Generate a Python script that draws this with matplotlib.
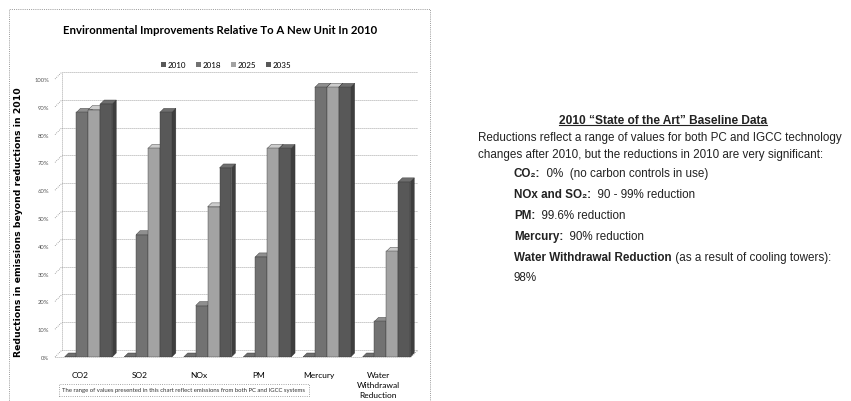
import numpy as np
import matplotlib
matplotlib.use('Agg')
import matplotlib.pyplot as plt
from matplotlib.patches import Polygon, Rectangle, Patch
from matplotlib import colors as mcolors

# datos del gráfico
categories = ['CO2', 'SO2', 'NOx', 'PM', 'Mercury', 'Water\nWithdrawal\nReduction']
years = ['2010', '2018', '2025', '2035']
red_2010 = [0, 0, 0, 0, 0, 0]
red_2018 = [88, 44, 18.5, 36, 97, 12.8]
red_2025 = [89, 75, 54, 75, 97, 38]
red_2035 = [91, 88, 68, 75, 97, 63]
yticks = [0, 10, 20, 30, 40, 50, 60, 70, 80, 90, 100]

series = [red_2010, red_2018, red_2025, red_2035]
bar_colors = ['#595959', '#727272', '#a3a3a3', '#585858']

chart_font = ['Lato', 'DejaVu Sans']
note_font = ['Liberation Sans', 'DejaVu Sans']

W, H = 851, 402
fig = plt.figure(figsize=(W / 100, H / 100), dpi=100)

# ejes en pixeles: izquierda 55, derecha 418, 0% en y=358, 100% en y=80
ax_l, ax_r, ax_b, ax_t = 55, 418, 358, 80
ax = fig.add_axes([ax_l / W, 1 - ax_b / H, (ax_r - ax_l) / W, (ax_b - ax_t) / H])
xmin, xmax = -0.42, 5.67
ax.set_xlim(xmin, xmax)
ax.set_ylim(0, 100)
px_x = (ax_r - ax_l) / (xmax - xmin)
px_y = (ax_b - ax_t) / 100.0

# profundidad del efecto 3D
dx = 4 / px_x
dy = 4 / px_y
wall_dx = 7 / px_x
wall_dy = 7 / px_y

# cuadrícula en la pared del fondo
grid_kw = dict(color='#8a8a8a', lw=0.6, linestyle=(0, (1, 1.4)), zorder=0)
for v in yticks:
    ax.plot([xmin, xmin + wall_dx], [v, v + wall_dy], **grid_kw, clip_on=False)
    ax.plot([xmin + wall_dx, xmax], [v + wall_dy, v + wall_dy], **grid_kw, clip_on=False)
ax.plot([xmin + wall_dx, xmin + wall_dx], [wall_dy, 100 + wall_dy], **grid_kw, clip_on=False)
ax.plot([xmin, xmax - wall_dx], [0, 0], **grid_kw, clip_on=False)
ax.plot([xmax - wall_dx, xmax], [0, wall_dy], **grid_kw, clip_on=False)


def shade(c, f):
    r, g, b = mcolors.to_rgb(c)
    return (min(r * f, 1), min(g * f, 1), min(b * f, 1))


# barras con caras lateral y superior
bw = 0.2
x = np.arange(len(categories))
for k, (vals, col) in enumerate(zip(series, bar_colors)):
    xs = x + 0.14 + (k - 1.5) * bw
    z = 2 + k * 3
    for xc, h in zip(xs, vals):
        x0 = xc - bw / 2
        x1 = xc + bw / 2
        ax.add_patch(Polygon([(x1, 0), (x1, h), (x1 + dx, h + dy), (x1 + dx, dy)],
                             closed=True, fc=shade(col, 0.7), ec='#333333', lw=0.3, zorder=z))
        ax.add_patch(Polygon([(x0, h), (x1, h), (x1 + dx, h + dy), (x0 + dx, h + dy)],
                             closed=True, fc=shade(col, 1.25), ec='#333333', lw=0.3, zorder=z + 1))
    ax.bar(xs, vals, width=bw, color=col, edgecolor='#3a3a3a', linewidth=0.3, zorder=z + 2)

ax.set_yticks(yticks)
ax.set_yticklabels([f'{v}%' for v in yticks], fontsize=4.2, color='#555555', family=chart_font)
ax.set_xticks(x)
ax.set_xticklabels(categories, fontsize=6, family=chart_font, linespacing=1.55, va='top')
ax.tick_params(axis='y', length=0, pad=4)
ax.tick_params(axis='x', length=0, pad=10)
for s in ax.spines.values():
    s.set_visible(False)
ax.patch.set_alpha(0)

ax.set_ylabel('Reductions in emissions beyond reductions in 2010', fontsize=6.7,
              fontweight='bold', family=['DejaVu Sans'])
ax.yaxis.set_label_coords(-0.088, 0.49)

# título y leyenda
fig.text(0.2585, 1 - 30 / H, 'Environmental Improvements Relative To A New Unit In 2010',
         ha='center', va='center', fontsize=8.2, fontweight='bold', family=chart_font)
handles = [Patch(facecolor=c, edgecolor='none') for c in bar_colors]
fig.legend(handles, years, loc='center', bbox_to_anchor=(0.266, 1 - 66 / H), ncol=4,
           frameon=False, prop={'family': chart_font, 'size': 5.8},
           handlelength=0.55, handleheight=0.55, handletextpad=0.3, columnspacing=1.2)

# nota al pie con recuadro punteado
fig.text(184 / W, 1 - 391 / H,
         'The range of values presented in this chart reflect emissions from both PC and IGCC systems',
         ha='center', va='center', fontsize=4.3, family=chart_font, color='#333333',
         bbox=dict(boxstyle='square,pad=0.6', fc='white', ec='#888888', lw=0.6, ls=':'))

# borde del área del gráfico
fig.patches.append(Rectangle((9 / W, -0.02), (430 - 9) / W, 1 - 10 / H + 0.02,
                             transform=fig.transFigure, fill=False, ec='#999999',
                             lw=0.7, ls=(0, (1, 1.2))))

# bloque de texto a la derecha
fig.canvas.draw()
renderer = fig.canvas.get_renderer()
fs = 8.4


def runs(x_px, y_px, parts):
    xf = x_px / W
    for txt, weight in parts:
        t = fig.text(xf, 1 - y_px / H, txt, ha='left', va='baseline', fontsize=fs,
                     fontweight=weight, family=note_font, color='#222222')
        bb = t.get_window_extent(renderer)
        xf = bb.x1 / W


head = fig.text(663 / W, 1 - 124 / H, '2010 \u201cState of the Art\u201d Baseline Data',
                ha='center', va='baseline', fontsize=8.6, fontweight='bold', family=note_font,
                color='#222222')
bb = head.get_window_extent(renderer)
fig.add_artist(plt.Line2D([bb.x0 / W, bb.x1 / W], [(bb.y0 + 1) / H, (bb.y0 + 1) / H],
                          color='#222222', lw=0.8))

runs(478, 141, [('Reductions reflect a range of values for both PC and IGCC technology', 'normal')])
runs(478, 158, [('changes after 2010, but the reductions in 2010 are very significant:', 'normal')])
runs(514, 177, [('CO\u2082:', 'bold'), ('  0%  (no carbon controls in use)', 'normal')])
runs(514, 198, [('NOx and SO\u2082:', 'bold'), ('  90 - 99% reduction', 'normal')])
runs(514, 219, [('PM:', 'bold'), ('  99.6% reduction', 'normal')])
runs(514, 240, [('Mercury:', 'bold'), ('  90% reduction', 'normal')])
runs(514, 261, [('Water Withdrawal Reduction', 'bold'), (' (as a result of cooling towers):', 'normal')])
runs(514, 281, [('98%', 'normal')])

fig.savefig('out.png', dpi=100)
